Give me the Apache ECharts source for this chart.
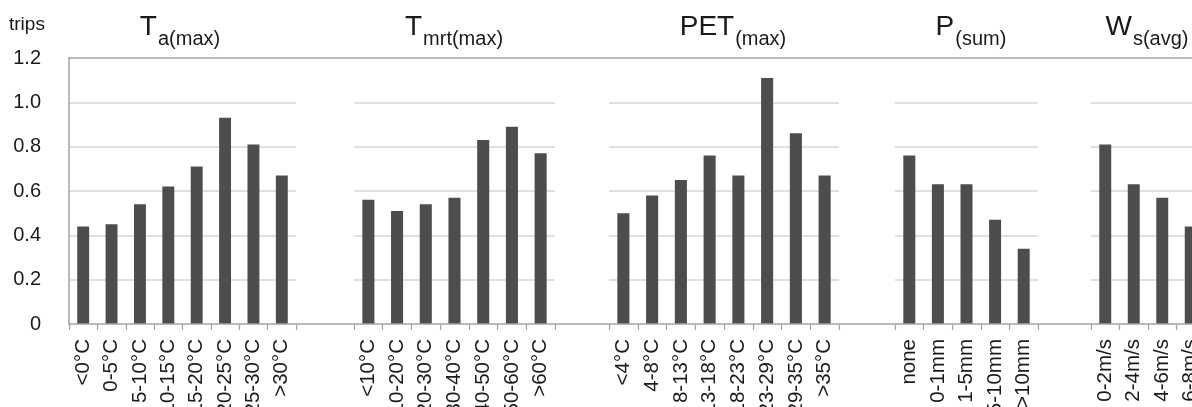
<!DOCTYPE html>
<html>
<head>
<meta charset="utf-8">
<script src="https://cdn.jsdelivr.net/npm/echarts@6/dist/echarts.min.js"></script>
<style>
html,body{margin:0;padding:0;background:#fff;}
#c{width:1192px;height:407px;}
</style>
</head>
<body>
<div id="c"></div>
<script>
// ---- data ----
const catTa = ['<0°C','0-5°C','5-10°C','10-15°C','15-20°C','20-25°C','25-30°C','>30°C'];
const valTa = [0.44, 0.45, 0.54, 0.62, 0.71, 0.93, 0.81, 0.67];
const catTmrt = ['<10°C','10-20°C','20-30°C','30-40°C','40-50°C','50-60°C','>60°C'];
const valTmrt = [0.56, 0.51, 0.54, 0.57, 0.83, 0.89, 0.77];
const catPET = ['<4°C','4-8°C','8-13°C','13-18°C','18-23°C','23-29°C','29-35°C','>35°C'];
const valPET = [0.50, 0.58, 0.65, 0.76, 0.67, 1.11, 0.86, 0.67];
const catP = ['none','0-1mm','1-5mm','5-10mm','>10mm'];
const valP = [0.76, 0.63, 0.63, 0.47, 0.34];
const catWs = ['0-2m/s','2-4m/s','4-6m/s','6-8m/s'];
const valWs = [0.81, 0.63, 0.57, 0.44];
const yTickLabels = ['0','0.2','0.4','0.6','0.8','1.0','1.2'];
const yAxisName = 'trips';
const titleMain = ['T','T','PET','P','W'];
const titleSub = ['a(max)','mrt(max)','(max)','(sum)','s(avg)'];

// ---- layout ----
const FONT = '"Liberation Sans", Arial, Helvetica, sans-serif';
const TXT = '#1a1a1a';
const AX = '#a3a3a3';
const GRIDC = '#d6d6d6';
const BAR = '#4d4d4d';
const plotTop = 58, plotBottomY = 324;
const panels = [
  {cats: catTa, vals: valTa, left: 69, width: 227, tx: 180},
  {cats: catTmrt, vals: valTmrt, left: 354, width: 201, tx: 454},
  {cats: catPET, vals: valPET, left: 609, width: 230, tx: 733},
  {cats: catP, vals: valP, left: 895, width: 143, tx: 971},
  {cats: catWs, vals: valWs, left: 1091, width: 114, tx: 1147}
];

const chart = echarts.init(document.getElementById('c'), null, {renderer: 'canvas'});

const grids = [{left: 69, top: plotTop, width: 1200, height: plotBottomY - plotTop, outerBoundsMode: 'none', containLabel: false}];
const xAxes = [
  {gridIndex: 0, type: 'value', min: 0, max: 1, position: 'bottom', z: 5,
   axisLine: {show: true, onZero: false, lineStyle: {color: AX, width: 1.5}},
   axisTick: {show: false}, axisLabel: {show: false}, splitLine: {show: false}},
  {gridIndex: 0, type: 'value', min: 0, max: 1, position: 'top', z: 5,
   axisLine: {show: true, onZero: false, lineStyle: {color: AX, width: 1.5}},
   axisTick: {show: false}, axisLabel: {show: false}, splitLine: {show: false}}
];
const yAxes = [
  {gridIndex: 0, type: 'value', min: 0, max: 1.2, interval: 0.2, z: 5,
   axisLine: {show: true, onZero: false, lineStyle: {color: AX, width: 1.5}},
   axisTick: {show: false},
   axisLabel: {show: true, margin: 28, fontSize: 20, color: TXT, fontFamily: FONT,
     formatter: (v) => yTickLabels[Math.round(v / 0.2)]},
   splitLine: {show: false}}
];
const series = [];
panels.forEach((p, i) => {
  grids.push({left: p.left, top: plotTop, width: p.width, height: plotBottomY - plotTop, outerBoundsMode: 'none', containLabel: false});
  xAxes.push({gridIndex: i + 1, type: 'category', data: p.cats,
    axisLine: {show: false},
    axisTick: {show: true, length: 6, lineStyle: {color: AX, width: 1.2}},
    axisLabel: {show: true, interval: 0, rotate: 90, margin: 15, fontSize: 20.5, color: TXT, fontFamily: FONT},
    splitLine: {show: false}});
  yAxes.push({gridIndex: i + 1, type: 'value', min: 0, max: 1.2, interval: 0.2,
    axisLine: {show: false}, axisTick: {show: false}, axisLabel: {show: false},
    splitLine: {show: true, showMinLine: false, showMaxLine: false, lineStyle: {color: GRIDC, width: 1.5}}});
  series.push({type: 'bar', xAxisIndex: i + 2, yAxisIndex: i + 1, data: p.vals,
    barWidth: '42%', itemStyle: {color: BAR}, silent: true});
});

const graphics = panels.map((p, i) => ({
  type: 'text', x: p.tx, y: 13, z: 10,
  style: {
    text: '{m|' + titleMain[i] + '}{s|' + titleSub[i] + '}',
    align: 'center', verticalAlign: 'top', fill: TXT,
    rich: {
      m: {fontSize: 28, fontFamily: FONT, fill: TXT, lineHeight: 30, verticalAlign: 'top'},
      s: {fontSize: 20, fontFamily: FONT, fill: TXT, lineHeight: 22, padding: [16, 0, 0, 1], verticalAlign: 'top'}
    }
  }
}));
graphics.push({type: 'text', x: 9, y: 15, z: 10,
  style: {text: yAxisName, fontSize: 19, fontFamily: FONT, fill: TXT, align: 'left', verticalAlign: 'top'}});

chart.setOption({
  animation: false,
  backgroundColor: '#ffffff',
  grid: grids,
  xAxis: xAxes,
  yAxis: yAxes,
  series: series,
  graphic: graphics
});
</script>
</body>
</html>
